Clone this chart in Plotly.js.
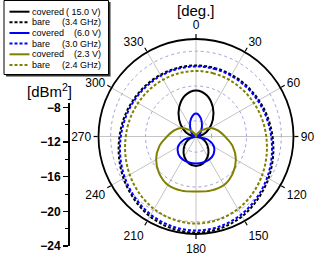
<!DOCTYPE html>
<html><head><meta charset="utf-8">
<script src="https://cdn.plot.ly/plotly-3.0.1.min.js"></script>
<style>html,body{margin:0;padding:0;background:#fff}#c{width:315px;height:256px}</style>
</head><body><div id="c"></div>
<script>
// angles in degrees (0 = top, clockwise)
const theta = [0,15,30,45,60,75,90,105,120,135,150,165,180,195,210,225,240,255,270,285,300,315,330,345,360];
// radiated level [dBm^2]
const covered15V = [-12.51,-12.93,-13.93,-15.06,-16.09,-16.98,-17.8,-17.16,-16.49,-15.80,-15.12,-14.60,-14.41,-14.60,-15.12,-15.80,-16.49,-17.16,-17.8,-16.98,-16.09,-15.06,-13.93,-12.93,-12.51];
const bare34GHz = [-9.64,-9.64,-9.62,-9.57,-9.46,-9.27,-9.01,-8.64,-8.19,-7.70,-7.21,-6.89,-6.77,-6.89,-7.21,-7.70,-8.19,-8.64,-9.01,-9.27,-9.46,-9.57,-9.62,-9.64,-9.64];
const covered6V = [-15.16,-15.64,-16.43,-17.0,-17.36,-17.6,-17.8,-16.37,-15.41,-14.94,-14.75,-14.71,-14.70,-14.71,-14.75,-14.94,-15.41,-16.37,-17.8,-17.6,-17.36,-17.0,-16.43,-15.64,-15.16];
const bare30GHz = [-9.75,-9.75,-9.74,-9.70,-9.59,-9.42,-9.16,-8.80,-8.36,-7.89,-7.43,-7.12,-7.0,-7.12,-7.43,-7.89,-8.36,-8.80,-9.16,-9.42,-9.59,-9.70,-9.74,-9.75,-9.75];
const covered23V = [-17.8,-17.63,-17.34,-16.77,-15.85,-15.16,-14.47,-13.43,-12.51,-11.82,-11.36,-11.36,-11.48,-11.36,-11.36,-11.82,-12.51,-13.43,-14.47,-15.16,-15.85,-16.77,-17.34,-17.63,-17.8];
const bare24GHz = [-10.27,-10.27,-10.26,-10.21,-10.12,-9.95,-9.73,-9.41,-9.01,-8.58,-8.18,-7.91,-7.80,-7.91,-8.18,-8.58,-9.01,-9.41,-9.73,-9.95,-10.12,-10.21,-10.26,-10.27,-10.27];

const legendNames = ["covered","bare","covered","bare","covered","bare"];
const legendNotes = ["( 15.0 V)","(3.4 GHz)","(6.0 V)","(3.0 GHz)","(2.3 V)","(2.4 GHz)"];
const radialTicks = [-8,-12,-16,-20,-24];
const angleTicks = [0,30,60,90,120,150,180,210,240,270,300,330];
const angleLabels = ["0","30","60","90","120","150","180","210","240","270","300","330"];

const series = [covered15V,bare34GHz,covered6V,bare30GHz,covered23V,bare24GHz];
const colors = ["#000000","#000000","#0000ff","#0000ff","#808000","#808000"];
const dashes = ["solid","3px,2px","solid","3px,2px","solid","3px,2px"];

const W=315,H=256;
const px = x => x/W, py = y => 1 - y/H;
const FONT = "Liberation Sans, Arial, sans-serif";
const RMIN=-17.8, RMAX=-6.6;

const traces = series.map((s,i)=>({
  type:"scatterpolar", subplot:"polar2", theta:theta, r:s, mode:"lines",
  line:{color:colors[i], width:2, dash:dashes[i], shape:"spline"},
  showlegend:false, hoverinfo:"skip"
}));
// invisible trace to create the cartesian scale bar axes
traces.push({type:"scatter", x:[null], y:[null], xaxis:"x", yaxis:"y", showlegend:false, hoverinfo:"skip"});

const dom = {x:[px(98.5),px(293.5)], y:[py(234),py(39)]};
const shapes = [
  {type:"rect", xref:"paper", yref:"paper", x0:px(6), x1:px(110.5), y0:py(2), y1:py(76.5), fillcolor:"#333", line:{width:0}},
  {type:"rect", xref:"paper", yref:"paper", x0:px(4), x1:px(108.5), y0:py(0.5), y1:py(74.5), fillcolor:"#fff", line:{color:"#000", width:1}}
];
const annotations = [];
const rowY = [11.7,22.3,33,43.6,54.3,65];
for (let i=0;i<6;i++){
  shapes.push({type:"line", xref:"paper", yref:"paper", x0:px(9.5), x1:px(29.5), y0:py(rowY[i]), y1:py(rowY[i]),
    line:{color:colors[i], width:2, dash:dashes[i]}});
  annotations.push({xref:"paper", yref:"paper", x:px(30), y:py(rowY[i]), xanchor:"left", yanchor:"middle",
    text:legendNames[i], showarrow:false, font:{family:FONT, size:9, color:"#000"}});
  annotations.push({xref:"paper", yref:"paper", x:px(103), y:py(rowY[i]), xanchor:"right", yanchor:"middle",
    text:legendNotes[i], showarrow:false, font:{family:FONT, size:9, color:"#000"}});
}
annotations.push({xref:"paper", yref:"paper", x:px(196), y:py(10), xanchor:"center", yanchor:"middle",
  text:"[deg.]", showarrow:false, font:{family:FONT, size:15, color:"#000"}});
annotations.push({xref:"paper", yref:"paper", x:px(49), y:py(90), xanchor:"center", yanchor:"middle",
  text:"[dBm<sup>2</sup>]", showarrow:false, font:{family:FONT, size:15, color:"#000"}});

const layout = {
  width:W, height:H, margin:{l:0,r:0,t:0,b:0}, paper_bgcolor:"#fff", plot_bgcolor:"rgba(0,0,0,0)",
  showlegend:false, font:{family:FONT, color:"#000"},
  polar:{
    domain:dom, bgcolor:"#fff",
    radialaxis:{range:[RMIN,RMAX], tickmode:"array", tickvals:[-14,-10], showticklabels:false, ticks:"",
      showline:false, gridcolor:"#d4ebd4", gridwidth:1},
    angularaxis:{rotation:90, direction:"clockwise", dtick:15, showgrid:false, showline:false,
      ticks:"outside", ticklen:4, tickwidth:1.2, tickcolor:"#000", showticklabels:false}
  },
  polar2:{
    domain:dom, bgcolor:"rgba(0,0,0,0)",
    radialaxis:{range:[RMIN,RMAX], tickmode:"array", tickvals:[-16,-12,-8], showticklabels:false, ticks:"",
      showline:false, gridcolor:"#a0a0d8", griddash:"dot", gridwidth:1},
    angularaxis:{rotation:90, direction:"clockwise", tickmode:"array", tickvals:angleTicks, ticktext:angleLabels,
      showgrid:true, gridcolor:"#c4c4c4", gridwidth:1,
      showline:true, linecolor:"#000", linewidth:1.8, ticks:"outside", ticklen:4, tickwidth:1.2, tickcolor:"#000",
      tickfont:{family:FONT, size:12, color:"#000"}}
  },
  xaxis:{domain:[0.0,0.05], visible:false, range:[0,1]},
  yaxis:{anchor:"free", position:px(68), side:"left", domain:[py(246),py(103)], range:[-24,-7.5],
    tickmode:"array", tickvals:radialTicks, ticks:"outside", ticklen:5, tickwidth:1.3, tickcolor:"#000",
    showline:true, linecolor:"#000", linewidth:1.5, showgrid:false, zeroline:false,
    minor:{tickmode:"linear", dtick:2, tick0:-24, ticks:"outside", ticklen:3, tickwidth:1, tickcolor:"#000", showgrid:false},
    tickfont:{family:FONT, size:12, color:"#000", weight:"bold"}},
  shapes:shapes, annotations:annotations
};
Plotly.newPlot("c", traces, layout, {displayModeBar:false, staticPlot:true});
</script></body></html>
